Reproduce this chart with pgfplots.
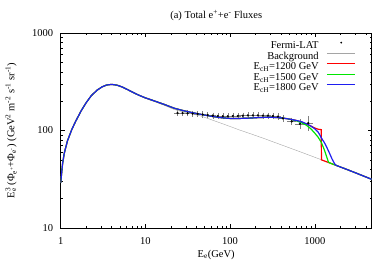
\documentclass[border=0pt]{standalone}
\usepackage{fontspec}
\setmainfont{Liberation Serif}
\usepackage{pgfplots}
\usepackage{pgfplotstable}
\pgfplotsset{compat=1.18}
\definecolor{cred}{RGB}{255,0,0}
\definecolor{cgreen}{RGB}{0,230,0}
\definecolor{cblue}{RGB}{30,30,240}
\definecolor{cgrey}{RGB}{165,165,165}
\pgfplotsset{
  lineleg/.style={legend image code/.code={\draw[##1] (0pt,3.5pt) -- (28.6pt,3.5pt);}},
  dotleg/.style={legend image code/.code={\path[draw=none,fill=none] (0pt,3.5pt) rectangle (28.6pt,3.6pt); \fill[black,draw=none] (14.3pt,3.5pt) circle (1pt);}},
}

\pgfplotstableread{
x y ex ey
24.0 151 1.6 7
27.5 151 1.8 7
31.5 150 2.0 7
36.1 149 2.3 7
41.4 148 2.6 7
47.5 146 3.0 7
54.4 144 3.5 7
62.4 142 4.0 7
71.5 141 4.6 7
81.9 140 5.2 7
93.9 140 6.0 7
107.6 141 6.9 7
123.3 141 7.9 7
141.3 142 9.0 7
162.0 143 10.4 7
185.6 143 11.9 7
212.7 143 13.6 7
243.8 142 15.6 7
279.4 142 17.9 7
320.2 141 20.5 7
367.0 139 23.5 7
420.6 133 27 8
534 124 50 8
668 117 62 11
838 119 80 17
}\fermi

\pgfplotstableread{
x y
1 29
1.05 45
1.1 58
1.2 78
1.35 102
1.5 124
1.75 160
2.0 193
2.3 228
2.7 260
3.1 281
3.5 293
4.0 297
4.6 292
5.3 280
6.2 262
7.2 245
8.3 231
10 214
13 197
17 180
22 164
28 155
35 148
44 142
60 129
80 118
100 110
130 101
172 93
250 83
350 74.5
500 66.5
700 59.7
900 55
1206 50
1500 46.5
1800 43.8
2500 39.3
3500 35
4700 31.6
}\bkg

\pgfplotstableread{
x y
1 29
1.05 45
1.1 58
1.2 78
1.35 102
1.5 124
1.75 160
2.0 193
2.3 228
2.7 260
3.1 281
3.5 293
4.0 297
4.6 292
5.3 280
6.2 262
7.2 245
8.3 231
10 216
13 200
17 184
22 169
28 160
35 153
44 147
60 140
80 135
100 133
130 133
170 134
225 136
300 137
400 135
500 131
600 127
700 122
800 116
900 111
1000 106
1100 103
1190 102
1200 50
1500 46.5
1800 43.8
2500 39.3
3500 35
4700 31.6
}\redc

\pgfplotstableread{
x y
1 29
1.05 45
1.1 58
1.2 78
1.35 102
1.5 124
1.75 160
2.0 193
2.3 228
2.7 260
3.1 281
3.5 293
4.0 297
4.6 292
5.3 280
6.2 262
7.2 245
8.3 231
10 216
13 200
17 184
22 169
28 160
35 153
44 147
60 140
80 135
100 133
130 133
170 134
225 136
300 137
400 135
500 131
600 126
700 120
800 113
900 104
1000 94
1100 85
1200 75
1300 63
1400 52
1450 47.4
1500 46.5
1800 43.8
2500 39.3
3500 35
4700 31.6
}\greenc

\pgfplotstableread{
x y
1 29
1.05 45
1.1 58
1.2 78
1.35 102
1.5 124
1.75 160
2.0 193
2.3 228
2.7 260
3.1 281
3.5 293
4.0 297
4.6 292
5.3 280
6.2 262
7.2 245
8.3 231
10 216
13 200
17 184
22 169
28 160
35 153
44 147
60 140
80 135
100 133
130 133
170 134
225 136
300 137
400 135
500 131
600 127
700 123
800 117
900 111
1000 104
1100 96
1206 83
1300 75
1400 66
1500 58
1600 51
1730 45
1800 43.8
2500 39.3
3500 35
4700 31.6
}\bluec

\begin{document}
\begin{tikzpicture}
\useasboundingbox (-60.7pt,-46pt) rectangle (331.3pt,228pt);
\begin{axis}[
  at={(0pt,0pt)}, anchor=south west,
  scale only axis, width=311pt, height=195pt,
  xmode=log, ymode=log,
  xmin=1, xmax=4700, ymin=10, ymax=1000,
  log ticks with fixed point,
  /pgf/number format/1000 sep={},
  /pgf/number format/assume math mode=true,
  font=\fontsize{10.5pt}{12pt}\selectfont,
  tick align=inside, tick pos=both,
  major tick length=4pt, minor tick length=2pt,
  every tick/.style={black, line width=0.4pt},
  axis line style={line width=0.5pt},
  xticklabel style={yshift=-6pt},
  yticklabel style={xshift=-4pt},
  title={(a) Total e\textsuperscript{+}+e\textsuperscript{-} Fluxes},
  title style={at={(axis description cs:0.5,1)}, anchor=base, yshift=9pt},
  xlabel={E\textsubscript{e}(GeV)},
  xlabel style={at={(axis description cs:0.5,0)}, anchor=base, yshift=-29pt},
  ylabel={E\rlap{\textsuperscript{3}}\textsubscript{e} (Φ\textsubscript{e\textsuperscript{+}}+Φ\textsubscript{e\textsuperscript{-}}) (GeV\textsuperscript{2} m\textsuperscript{-2} s\textsuperscript{-1} sr\textsuperscript{-1})},
  ylabel style={at={(axis description cs:-0.149,0.5)}, anchor=base},
  legend plot pos=right,
  legend cell align=right,
  legend style={draw=none, fill=none, at={(rel axis cs:1,1)}, anchor=north east,
    xshift=-12.4pt, yshift=-5.7pt, font=\fontsize{10.5pt}{12pt}\selectfont,
    nodes={inner sep=0pt, text height=8pt, text depth=2.5pt},
    row sep=0pt, column sep=7.7pt},
]
\addplot[only marks, mark=*, mark size=0.9pt, black, forget plot,
  error bars/.cd, x dir=both, x explicit, y dir=both, y explicit,
  error bar style={gray, line width=0.4pt}, error mark options={gray, mark size=1pt}]
  table[x=x, y=y, x error=ex, y error=ey] {\fermi};
\addlegendimage{black, dotleg}
\addlegendentry{Fermi-LAT}
\addplot[cgrey, line width=0.4pt, lineleg] table[x=x,y=y] {\bkg};
\addlegendentry{Background}
\addplot[cred, line width=1.2pt, lineleg] table[x=x,y=y] {\redc};
\addlegendentry{E\textsubscript{cH}=1200 GeV}
\addplot[cgreen, line width=1.2pt, lineleg] table[x=x,y=y] {\greenc};
\addlegendentry{E\textsubscript{cH}=1500 GeV}
\addplot[cblue, line width=1.2pt, lineleg] table[x=x,y=y] {\bluec};
\addlegendentry{E\textsubscript{cH}=1800 GeV}
\end{axis}
\end{tikzpicture}
\end{document}
